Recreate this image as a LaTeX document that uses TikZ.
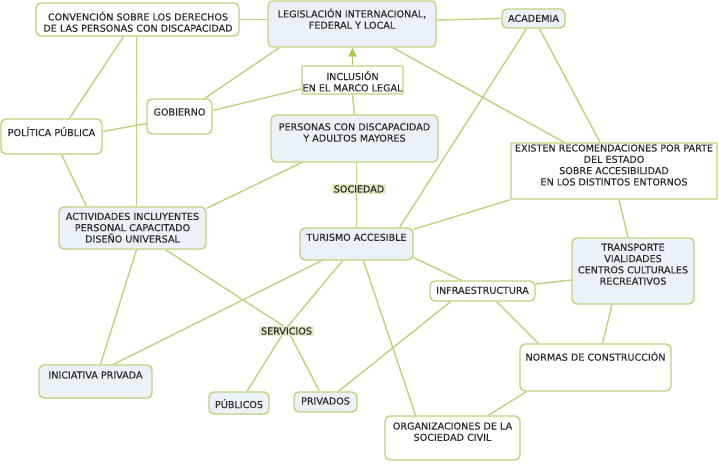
\documentclass[tikz,border=0pt]{standalone}
\usepackage{fontspec}
\setmainfont{DejaVu Sans}
\newfontfamily\mapfont{DejaVu Sans}[FakeBold=0.25]
\usetikzlibrary{arrows.meta,backgrounds}
\definecolor{lgreen}{HTML}{BDD37C}
\definecolor{agreen}{HTML}{A8C850}
\definecolor{lblue}{HTML}{EBF2F7}
\definecolor{tgray}{HTML}{2A2A2A}
\definecolor{lblfill}{HTML}{E3EAC6}
\begin{document}
\begin{tikzpicture}[x=1pt,y=-1pt,
  box/.style={draw=lgreen, line width=1.4pt, rounded corners=5pt, inner sep=0pt},
  wbox/.style={box, fill=white},
  bbox/.style={box, fill=lblue},
  sqbox/.style={box, fill=white, rounded corners=0.8pt},
  txt/.style={align=center, text=tgray, font=\mapfont\fontsize{9.6}{11.3}\selectfont, inner sep=0pt},
  lbl/.style={txt, fill=lblfill, inner xsep=2pt, inner ysep=1.5pt},
  edge/.style={draw=lgreen, line width=1.4pt}]
\useasboundingbox (0,0) rectangle (719,465);

% boxes
\node[wbox, minimum width=203pt, minimum height=33pt] (conv) at (137.5,19.5) {};
\node[bbox, minimum width=168pt, minimum height=46pt] (leg) at (352,24) {};
\node[bbox, minimum width=63pt, minimum height=19pt] (acad) at (533.5,18.5) {};
\node[sqbox, minimum width=101pt, minimum height=28pt] (incl) at (352.5,80) {};
\node[wbox, minimum width=65pt, minimum height=35pt] (gob) at (179.5,116.5) {};
\node[wbox, minimum width=101pt, minimum height=35pt] (pol) at (51.5,136.5) {};
\node[bbox, minimum width=167pt, minimum height=47pt] (pers) at (354.5,138.5) {};
\node[sqbox, minimum width=206pt, minimum height=56pt] (exist) at (614,171) {};
\node[bbox, minimum width=147pt, minimum height=42pt] (act) at (132.5,228) {};
\node[bbox, minimum width=113pt, minimum height=32pt] (tur) at (356.5,244) {};
\node[bbox, minimum width=122pt, minimum height=66pt] (trans) at (633,271) {};
\node[wbox, minimum width=105pt, minimum height=20pt] (infra) at (482.5,291) {};
\node[bbox, minimum width=113pt, minimum height=33pt] (inic) at (95.5,381.5) {};
\node[bbox, minimum width=60pt, minimum height=22pt] (pub) at (239,403) {};
\node[bbox, minimum width=63pt, minimum height=20pt] (priv) at (325.5,402) {};
\node[wbox, minimum width=151pt, minimum height=47pt] (normas) at (595.5,367.5) {};
\node[wbox, minimum width=135pt, minimum height=44pt] (org) at (452.5,438) {};

% texts
\node[txt] (convT) at (138,21.7) {CONVENCIÓN SOBRE LOS DERECHOS\\DE LAS PERSONAS CON DISCAPACIDAD};
\node[txt] (legT) at (352,18.7) {LEGISLACIÓN INTERNACIONAL,\\FEDERAL Y LOCAL};
\node[txt] (acadT) at (533.5,18.3) {ACADEMIA};
\node[txt] (inclT) at (352.5,81.3) {INCLUSIÓN\\EN EL MARCO LEGAL};
\node[txt] (gobT) at (179.5,112) {GOBIERNO};
\node[txt] (polT) at (51.5,131.7) {POLÍTICA PÚBLICA};
\node[txt] (persT) at (354.5,132.5) {PERSONAS CON DISCAPACIDAD\\Y ADULTOS MAYORES};
\node[txt] (existT) at (614,165) {EXISTEN RECOMENDACIONES POR PARTE\\DEL ESTADO\\SOBRE ACCESIBILIDAD\\EN LOS DISTINTOS ENTORNOS};
\node[txt] (actT) at (132.5,227.7) {ACTIVIDADES INCLUYENTES\\PERSONAL CAPACITADO\\DISEÑO UNIVERSAL};
\node[txt] (turT) at (356.5,237.3) {TURISMO ACCESIBLE};
\node[txt] (transT) at (633,264.2) {TRANSPORTE\\VIALIDADES\\CENTROS CULTURALES\\RECREATIVOS};
\node[txt] (infraT) at (482.5,290.3) {INFRAESTRUCTURA};
\node[txt] (inicT) at (95.5,375) {INICIATIVA PRIVADA};
\node[txt] (pubT) at (239,403.7) {PÚBLICOS};
\node[txt] (privT) at (325.5,401) {PRIVADOS};
\node[txt] (normasT) at (595.5,356.3) {NORMAS DE CONSTRUCCIÓN};
\node[txt] (orgT) at (452.5,431.7) {ORGANIZACIONES DE LA\\SOCIEDAD CIVIL};

% edges
\begin{pgfonlayer}{background}
\fill[white] (0,0) rectangle (719,465);
\draw[edge] (conv.east) -- (conv.east -| leg.west);
\draw[edge] ([yshift=4pt]leg.east) -- (acad.west);
\draw[edge] ([xshift=-14pt]conv.south) -- ([xshift=18pt]pol.north);
\draw[edge] ([xshift=-1pt]conv.south) -- ([xshift=4pt]act.north);
\draw[edge] ([xshift=12pt]leg.south west) -- ([xshift=-8pt]gob.north east);
\draw[edge] ([yshift=6pt]gob.east) -- ([yshift=-9pt]incl.west);
\draw[edge] ([yshift=5pt]pol.east) -- ([yshift=-7pt]gob.west);
\draw[edge] ([xshift=10pt]pol.south) -- ([xshift=-46pt]act.north);
\draw[edge] (incl.south) -- (pers.north);
\draw[edge] ([xshift=41pt]leg.south) -- ([xshift=-50pt]exist.north);
\draw[edge] ([xshift=-7pt]acad.south) -- ([xshift=-14pt]tur.north east);
\draw[edge] ([xshift=6pt]acad.south) -- ([xshift=-14pt]exist.north);
\draw[edge] ([xshift=31pt]pers.south west) -- ([yshift=-2pt]act.north east);
\draw[edge] ([xshift=2pt]pers.south) -- (tur.north);
\draw[edge] ([yshift=-2pt]tur.north east) -- (exist.south west);
\draw[edge] ([yshift=3pt]tur.south east) -- ([xshift=-21pt]infra.north);
\draw[edge] ([xshift=-35pt]tur.south) -- ([xshift=18pt]inic.north);
\draw[edge] ([xshift=-14pt]tur.south) -- (286.5,328) coordinate (servC);
\draw[edge] ([xshift=7pt]tur.south) -- ([xshift=-37pt]org.north);
\draw[edge] ([xshift=4pt]act.south) -- ([xshift=5pt]inic.north);
\draw[edge] ([xshift=33pt]act.south) -- (servC);
\draw[edge] (servC) -- ([xshift=8pt]pub.north);
\draw[edge] (servC) -- ([xshift=-6pt]priv.north);
\draw[edge] ([xshift=-32pt]infra.south) -- ([xshift=13pt]priv.north);
\draw[edge] ([yshift=7pt]infra.east) -- ([yshift=-9pt]trans.west);
\draw[edge] ([xshift=14pt]infra.south) -- ([xshift=19pt]normas.north west);
\draw[edge] ([xshift=5pt]exist.south) -- ([xshift=-5pt]trans.north);
\draw[edge] ([xshift=-21pt]trans.south) -- ([xshift=7pt]normas.north);
\draw[edge] ([xshift=7pt]normas.south west) -- ([xshift=36pt]org.north);
\end{pgfonlayer}
\draw[edge, -{Triangle[width=8pt,length=9pt]}, agreen] (incl.north) -- (incl.north |- leg.south);

% labels on lines
\node[lbl] (soc) at (359,189) {SOCIEDAD};
\node[lbl] (serv) at (286.5,331) {SERVICIOS};
\end{tikzpicture}
\end{document}
